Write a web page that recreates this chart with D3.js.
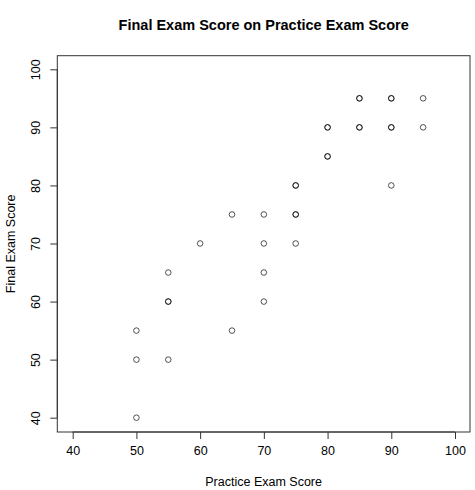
<!DOCTYPE html>
<html><head><meta charset="utf-8">
<script src="https://cdn.jsdelivr.net/npm/d3@7"></script>
<style>body{margin:0;background:#fff}svg{display:block}text{font-family:"Liberation Sans",Arial,Helvetica,sans-serif;fill:#000}</style>
</head><body>
<script>
const practice = [50,50,50,55,55,55,55,60,65,65,70,70,70,70,75,75,75,75,75,80,80,80,80,85,85,85,85,90,90,90,90,90,95,95];
const finalScore = [55,50,40,65,60,60,50,70,75,55,75,70,65,60,80,80,75,75,70,90,90,85,85,95,95,90,90,95,95,90,90,80,95,90];
const xTicks = [40,50,60,70,80,90,100];
const yTicks = [40,50,60,70,80,90,100];
const title = "Final Exam Score on Practice Exam Score";
const xLabel = "Practice Exam Score";
const yLabel = "Final Exam Score";

const W = 475, H = 490;
const box = {l:57.3, r:470, t:55.7, b:432};
const svg = d3.select("body").append("svg").attr("width",W).attr("height",H);

const x = d3.scaleLinear().domain([40,100]).range([72.7,455]);
const y = d3.scaleLinear().domain([40,100]).range([417.7,69.3]);

svg.append("rect").attr("x",box.l).attr("y",box.t).attr("width",box.r-box.l).attr("height",box.b-box.t)
  .attr("fill","none").attr("stroke","#333").attr("stroke-width",1);

const xa = svg.append("g").attr("transform",`translate(0,${box.b})`)
  .call(d3.axisBottom(x).tickValues(xTicks).tickSize(7).tickPadding(7).tickFormat(d3.format("d")));
xa.select(".domain").attr("d",`M${x(40)},0H${x(100)}`).attr("stroke","#333");
xa.selectAll(".tick line").attr("stroke","#333");
xa.selectAll("text").attr("font-size",12.5).style("font-family","Liberation Sans, Arial, sans-serif").attr("fill","#000");

const ya = svg.append("g").attr("transform",`translate(${box.l},0)`)
  .call(d3.axisLeft(y).tickValues(yTicks).tickSize(7).tickFormat(d3.format("d")));
ya.select(".domain").attr("d",`M0,${y(40)}V${y(100)}`).attr("stroke","#333");
ya.selectAll(".tick line").attr("stroke","#333");
ya.selectAll(".tick text").attr("font-size",12.5).style("font-family","Liberation Sans, Arial, sans-serif").attr("fill","#000")
  .attr("x",0).attr("y",0).attr("dy",0).attr("text-anchor","middle").attr("dominant-baseline","central")
  .attr("transform","translate(-21,0) rotate(-90)");

svg.append("g").selectAll("circle").data(practice.map((p,i)=>[p,finalScore[i]])).join("circle")
  .attr("cx",d=>x(d[0])).attr("cy",d=>y(d[1])).attr("r",2.8)
  .attr("fill","none").attr("stroke","#000").attr("stroke-opacity",0.75).attr("stroke-width",0.9);

svg.append("text").attr("x",(box.l+box.r)/2).attr("y",25).attr("text-anchor","middle")
  .attr("dominant-baseline","central").attr("font-size",14.5).attr("font-weight","bold").text(title);
svg.append("text").attr("x",(box.l+box.r)/2).attr("y",482).attr("text-anchor","middle")
  .attr("dominant-baseline","central").attr("font-size",12.5).text(xLabel);
svg.append("text").attr("transform",`translate(11,${(box.t+box.b)/2}) rotate(-90)`).attr("text-anchor","middle")
  .attr("dominant-baseline","central").attr("font-size",12.5).text(yLabel);
</script>
</body></html>
